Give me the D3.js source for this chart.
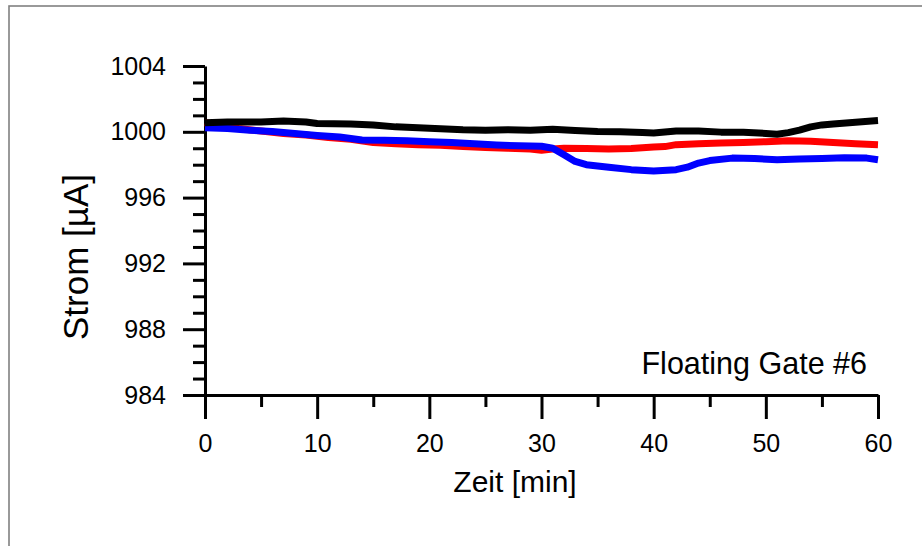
<!DOCTYPE html>
<html>
<head>
<meta charset="utf-8">
<script src="https://cdn.jsdelivr.net/npm/d3@7"></script>
<style>
  body { margin: 0; background: #fff; }
  text { font-family: "Liberation Sans", Arial, sans-serif; fill: #000; }
</style>
</head>
<body>
<div id="chart"></div>
<script>
// time axis (min) for each series
var blackT = [0, 2, 5, 7, 9, 10, 13, 15, 17, 19, 21, 23, 25, 27, 29, 31, 33, 35, 37, 39, 40, 42, 44, 46, 48, 50, 51, 52, 53, 54, 55, 56, 58, 60];
var blackI = [1000.55, 1000.6, 1000.6, 1000.65, 1000.6, 1000.5, 1000.48, 1000.42, 1000.3, 1000.25, 1000.18, 1000.12, 1000.1, 1000.12, 1000.1, 1000.15, 1000.08, 1000.02, 1000.0, 999.95, 999.93, 1000.05, 1000.05, 999.98, 999.97, 999.9, 999.85, 999.95, 1000.1, 1000.3, 1000.42, 1000.48, 1000.58, 1000.68];

var redT = [0, 1, 3, 5, 7, 9, 11, 13, 15, 17, 19, 21, 23, 25, 27, 29, 30, 31, 32, 34, 36, 38, 40, 41, 42, 44, 46, 48, 50, 52, 54, 56, 58, 60];
var redI = [1000.55, 1000.45, 1000.2, 1000.05, 999.9, 999.8, 999.65, 999.55, 999.35, 999.28, 999.22, 999.18, 999.1, 999.05, 999.0, 998.95, 998.88, 998.95, 999.0, 998.98, 998.95, 998.98, 999.08, 999.1, 999.22, 999.28, 999.32, 999.35, 999.4, 999.45, 999.42, 999.35, 999.28, 999.22];

var blueT = [0, 2, 4, 6, 8, 10, 12, 14, 16, 18, 20, 22, 24, 26, 28, 30, 31, 32, 33, 34, 36, 38, 40, 42, 43, 44, 45, 47, 49, 51, 53, 55, 57, 59, 60];
var blueI = [1000.25, 1000.2, 1000.1, 1000.02, 999.9, 999.78, 999.68, 999.5, 999.48, 999.45, 999.4, 999.35, 999.28, 999.2, 999.15, 999.12, 999.0, 998.6, 998.2, 998.0, 997.85, 997.7, 997.62, 997.7, 997.85, 998.1, 998.25, 998.4, 998.38, 998.3, 998.35, 998.38, 998.42, 998.4, 998.3];

var xTicks = [0, 10, 20, 30, 40, 50, 60];
var yTicks = [984, 988, 992, 996, 1000, 1004];

var W = 922, H = 546;
var margin = { top: 66, right: 44, bottom: 151, left: 205 };
var width = W - margin.left - margin.right,
    height = H - margin.top - margin.bottom;

var svg = d3.select("#chart").append("svg")
    .attr("width", W)
    .attr("height", H);

// outer frame
svg.append("rect")
    .attr("x", 9).attr("y", 6)
    .attr("width", W + 20).attr("height", H + 20)
    .attr("fill", "#fff")
    .attr("stroke", "#808080")
    .attr("stroke-width", 1.6);

var g = svg.append("g")
    .attr("transform", "translate(" + margin.left + "," + margin.top + ")");

var x = d3.scaleLinear().domain([0, 60]).range([0, width]);
var y = d3.scaleLinear().domain([984, 1004]).range([height, 0]);

// minor ticks
g.append("g")
    .attr("transform", "translate(0," + height + ")")
    .call(d3.axisBottom(x).tickValues(d3.range(5, 60, 10)).tickSize(12).tickFormat(""))
    .call(function (a) { a.select(".domain").remove(); })
    .selectAll("line").attr("stroke-width", 3);

g.append("g")
    .call(d3.axisLeft(y).tickValues(d3.range(984, 1005, 1).filter(function (v) { return v % 4 !== 0; })).tickSize(12).tickFormat(""))
    .call(function (a) { a.select(".domain").remove(); })
    .selectAll("line").attr("stroke-width", 3);

// major axes
var xAxis = g.append("g")
    .attr("transform", "translate(0," + height + ")")
    .call(d3.axisBottom(x).tickValues(xTicks).tickSize(24).tickSizeOuter(0).tickPadding(15).tickFormat(d3.format("d")));
xAxis.select(".domain").attr("stroke-width", 3);
xAxis.selectAll("line").attr("stroke-width", 3);
xAxis.selectAll("text").style("font-size", "25px");

var yAxis = g.append("g")
    .call(d3.axisLeft(y).tickValues(yTicks).tickSize(22).tickSizeOuter(0).tickPadding(17).tickFormat(d3.format("d")));
yAxis.select(".domain").attr("stroke-width", 3);
yAxis.selectAll("line").attr("stroke-width", 3);
yAxis.selectAll("text").style("font-size", "25px");

var line = d3.line()
    .x(function (d) { return x(d[0]); })
    .y(function (d) { return y(d[1]); });

var series = [
    { t: redT, v: redI, color: "#ff0000" },
    { t: blueT, v: blueI, color: "#0000ff" },
    { t: blackT, v: blackI, color: "#000000" }
];

series.forEach(function (s) {
    g.append("path")
        .datum(d3.zip(s.t, s.v))
        .attr("d", line)
        .attr("fill", "none")
        .attr("stroke", s.color)
        .attr("stroke-width", 7)
        .attr("stroke-linejoin", "round");
});

// labels
g.append("text")
    .attr("x", width - 11)
    .attr("y", 308)
    .attr("text-anchor", "end")
    .style("font-size", "30.5px")
    .text("Floating Gate #6");

svg.append("text")
    .attr("x", 515)
    .attr("y", 492)
    .attr("text-anchor", "middle")
    .style("font-size", "30px")
    .text("Zeit [min]");

svg.append("text")
    .attr("transform", "translate(88,257) rotate(-90)")
    .attr("text-anchor", "middle")
    .style("font-size", "35px")
    .text("Strom [µA]");
</script>
</body>
</html>
